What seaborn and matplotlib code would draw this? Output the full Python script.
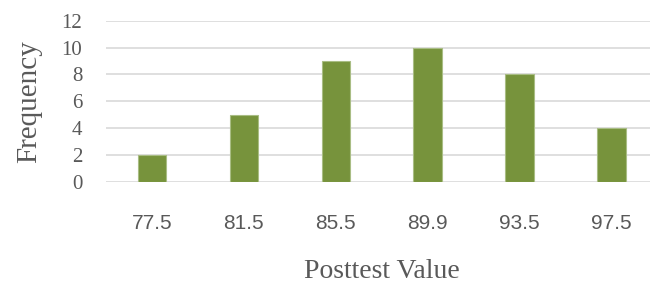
import matplotlib
matplotlib.use("Agg")
import matplotlib.pyplot as plt
import seaborn as sns
import pandas as pd

# --- dados ---
posttest_values = ["77.5", "81.5", "85.5", "89.9", "93.5", "97.5"]
frequencies = [2, 5, 9, 10, 8, 4]
y_ticks = [0, 2, 4, 6, 8, 10, 12]

df = pd.DataFrame({"valor": posttest_values, "freq": frequencies})

sns.set_theme(style="white")
plt.rcParams["font.family"] = ["Liberation Serif", "DejaVu Serif"]

text_color = "#595959"
bar_color = "#77933C"

fig = plt.figure(figsize=(6.5, 2.86), dpi=100)
ax = fig.add_axes([106 / 650, 1 - 181.7 / 286, (657.5 - 106) / 650, (181.7 - 20.7) / 286])

sns.barplot(data=df, x="valor", y="freq", color=bar_color, width=0.31,
            saturation=1, edgecolor="#A9BD84", linewidth=0.8, ax=ax, zorder=3)

ax.set_ylim(0, 12)
ax.set_xlim(-0.5, 5.5)
ax.set_yticks(y_ticks)
ax.yaxis.grid(True, color="#D9D9D9", linewidth=1.2, zorder=0)
ax.xaxis.grid(False)
for s in ax.spines.values():
    s.set_visible(False)

ax.tick_params(axis="y", length=0, pad=17, labelsize=15, labelcolor=text_color)
ax.tick_params(axis="x", length=0, pad=23, labelsize=15, labelcolor=text_color)
for lbl in ax.get_xticklabels():
    lbl.set_fontfamily(["Liberation Sans", "DejaVu Sans"])

ax.set_xlabel("Posttest Value", fontsize=20, color=text_color, labelpad=19)
ax.set_ylabel("Frequency", fontsize=21, color=text_color, labelpad=14)

fig.savefig("out.png", dpi=100)
